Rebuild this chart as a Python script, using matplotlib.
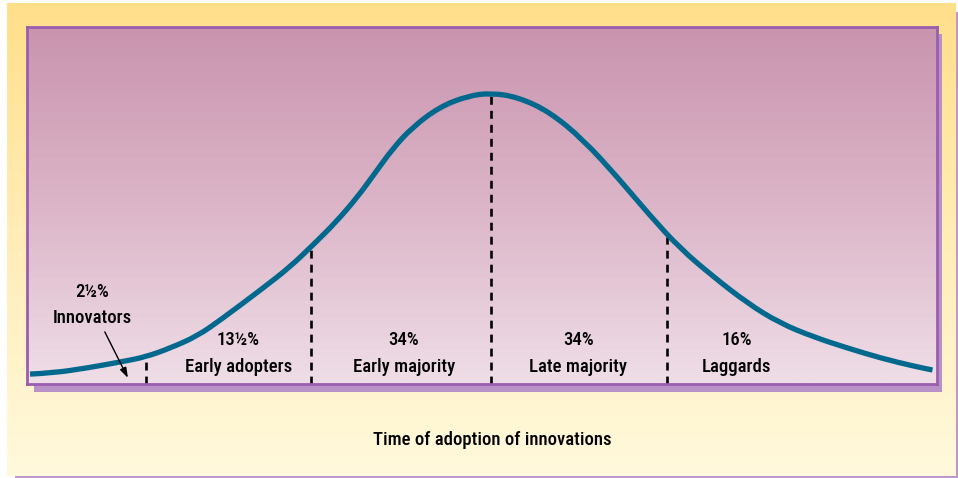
import numpy as np
import matplotlib
matplotlib.use("Agg")
import matplotlib.pyplot as plt
from matplotlib.colors import LinearSegmentedColormap
from matplotlib.patches import Rectangle, PathPatch
from matplotlib.path import Path
from matplotlib import font_manager as fm

# ---------------- data ----------------
# adoption curve: time in standard deviations from the mean, height relative to the peak
curve_time = [-2.59, -2.46, -2.27, -2.08, -1.94, -1.80, -1.65, -1.52, -1.28, -1.13,
              -1.00, -0.87, -0.75, -0.66, -0.55, -0.44, -0.29, -0.13, 0.00, 0.15,
              0.33, 0.52, 0.71, 0.89, 1.06, 1.25, 1.44, 1.62, 1.81, 2.00,
              2.19, 2.37, 2.48]
curve_height = [0.034, 0.038, 0.055, 0.076, 0.093, 0.124, 0.165, 0.220, 0.330, 0.402,
                0.478, 0.557, 0.643, 0.718, 0.811, 0.883, 0.952, 0.990, 1.000, 0.986,
                0.935, 0.838, 0.711, 0.581, 0.467, 0.368, 0.278, 0.210, 0.162, 0.124,
                0.089, 0.062, 0.048]
# category boundaries (dashed lines) and the curve height where they end
boundary_time = [-1.94, -1.01, 0.00, 0.99]
boundary_height = [0.093, 0.478, 1.000, 0.505]
share_labels = ["2½%", "13½%", "34%", "34%", "16%"]
category_labels = ["Innovators", "Early adopters", "Early majority", "Late majority", "Laggards"]
x_title = "Time of adoption of innovations"


# ---------------- font: prefer a condensed face ----------------
def pick_font():
    prefs = ["LiberationSansNarrow-Regular", "RobotoCondensed-Medium", "RobotoCondensed-Regular",
             "OpenSansCondensed", "DejaVuSansCondensed.ttf"]
    files = [f.fname for f in fm.fontManager.ttflist]
    for p in prefs:
        for f in files:
            if p.lower() in f.lower().replace(" ", ""):
                return fm.FontProperties(fname=f)
    for f in fm.fontManager.ttflist:
        if f.stretch in ("condensed", "semi-condensed") and f.weight in (400, "normal"):
            return fm.FontProperties(fname=f.fname)
    return fm.FontProperties(family="DejaVu Sans", stretch="condensed")


FP = pick_font()
TS = 13.5

W, H = 958, 478
fig = plt.figure(figsize=(W / 100, H / 100), dpi=100)
fig.patch.set_facecolor("white")

# background axes in pixel coordinates
bg = fig.add_axes([0, 0, 1, 1])
bg.set_axis_off()

yellow = LinearSegmentedColormap.from_list("y", ["#FFDF8A", "#FFEDB8", "#FFF9DC"])
grad = np.linspace(0, 1, 256).reshape(-1, 1)
bg.add_patch(Rectangle((15, 12), 943, 466, facecolor="#BE97CB", edgecolor="none", zorder=0))
bg.imshow(grad, cmap=yellow, extent=(7, 956, 476, 3), aspect="auto", zorder=1,
          interpolation="bilinear")
bg.add_patch(Rectangle((34, 34), 908, 358, facecolor="#B891C6", edgecolor="none", zorder=2))
bg.text(492, 440, x_title, ha="center", va="center", fontproperties=FP, fontsize=TS,
        color="black", zorder=3)
bg.set_xlim(0, W)
bg.set_ylim(H, 0)

# inner plot axes
left, right, top, bottom = 27, 937, 27, 384
ax = fig.add_axes([left / W, 1 - bottom / H, (right - left) / W, (bottom - top) / H])
x0 = -2.607
x1 = x0 + (right - left) / 178
y1 = (bottom - top) / 291

pink = LinearSegmentedColormap.from_list("p", ["#C994AE", "#DCB5C8", "#EFDEE7"])
ax.imshow(grad, cmap=pink, extent=(0, 1, 0, 1), transform=ax.transAxes, aspect="auto",
          zorder=0, interpolation="bilinear")
ax.set_xlim(x0, x1)
ax.set_ylim(0, y1)

for s in ax.spines.values():
    s.set_color("#9A5DAF")
    s.set_linewidth(2.0)
ax.set_xticks([])
ax.set_yticks([])

ax.vlines(boundary_time, 0, boundary_height, colors="black", linewidth=1.9,
          linestyles=(0, (3.0, 2.3)), zorder=2)

# smooth curve through the read points (quadratic Bezier path, drawn in data coords)
pts = np.column_stack([curve_time, curve_height])
verts = [pts[0]]
codes = [Path.MOVETO]
for i in range(1, len(pts) - 1):
    mid = (pts[i] + pts[i + 1]) / 2
    verts += [pts[i], mid]
    codes += [Path.CURVE3, Path.CURVE3]
verts.append(pts[-1])
codes.append(Path.LINETO)
ax.add_patch(PathPatch(Path(verts, codes), facecolor="none", edgecolor="#00688C",
                       linewidth=3.8, capstyle="butt", joinstyle="round", zorder=3))

# labels
label_x = [-2.24, -1.42, -0.49, 0.49, 1.38]
for i, (sh, cat) in enumerate(zip(share_labels, category_labels)):
    ya, yb = (0.316, 0.227) if i == 0 else (0.151, 0.058)
    ax.text(label_x[i], ya, sh, ha="center", va="center", fontproperties=FP, fontsize=TS, zorder=4)
    ax.text(label_x[i], yb, cat, ha="center", va="center", fontproperties=FP, fontsize=TS, zorder=4)

ax.annotate("", xy=(-2.04, 0.021), xytext=(-2.17, 0.179),
            arrowprops=dict(arrowstyle="-|>,head_length=0.6,head_width=0.2",
                            color="black", lw=1.0, shrinkA=0, shrinkB=0), zorder=4)

fig.savefig("out.png", dpi=100)
